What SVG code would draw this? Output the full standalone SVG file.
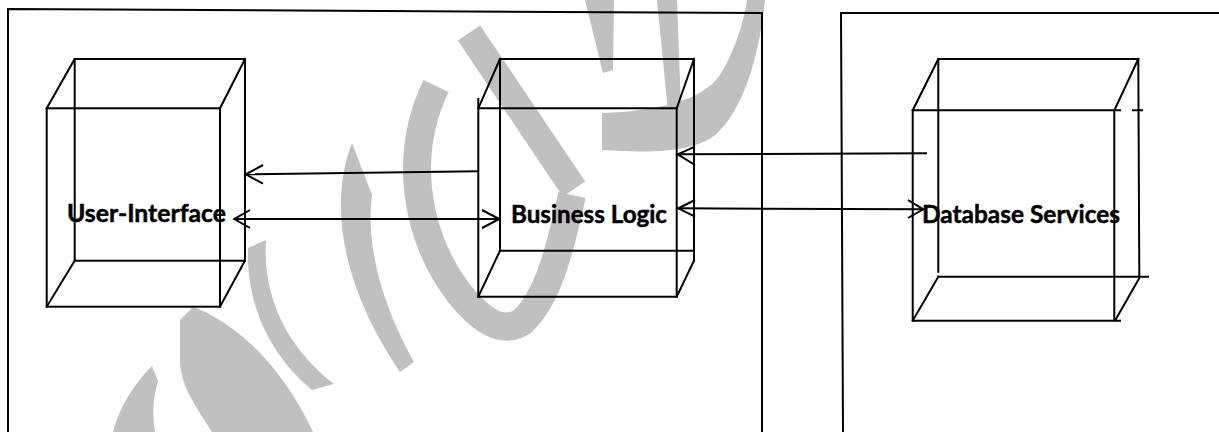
<svg xmlns="http://www.w3.org/2000/svg" width="1219" height="432" viewBox="0 0 1219 432">
  <defs>
    <style>
      .mark { fill: #c0c0c0; stroke: none; }
      .markline { fill: none; stroke: #c0c0c0; stroke-linecap: butt; }
      .edge { fill: none; stroke: #000; stroke-width: 2; stroke-linecap: square; }
      .wire { fill: none; stroke: #000; stroke-width: 2; }
      .head { fill: none; stroke: #000; stroke-width: 2; stroke-linejoin: miter; }
      .label { font-family: Lato, "Open Sans", "Liberation Sans", sans-serif; font-weight: bold; font-size: 25px; fill: #000; stroke: #000; stroke-width: 0.5; }
    </style>
  </defs>
  <rect width="1219" height="432" fill="#fff"/>

  <!-- background mark -->
  <g id="backdrop-mark">
    <path class="mark" d="M113 432 C120 405 135 383 152 366 L158 381 C153 398 152 415 155 432 Z"/>
    <path class="mark" d="M180 320 L193 307 C230 320 280 360 313 432 L212 432 C195 405 180 385 180 360 Z"/>
    <path class="mark" d="M248 248 L266 240 C262 300 290 350 334 384 L312 390 C270 355 246 305 248 248 Z"/>
    <path class="mark" d="M352 143 C330 200 338 280 400 372 L414 362 C385 310 365 250 372 195 Z"/>
    <path class="markline" stroke-width="28" d="M436 86 C405 150 412 230 458 292 C482 322 502 334 522 322 C548 298 560 250 572 195"/>
    <path class="markline" stroke-width="27" d="M469 33 L574 189"/>
    <path class="mark" d="M585 0 L614 0 L613 70 L603 73 Z"/>
    <path class="mark" d="M657 0 L677 0 L681 108 L668 112 Z"/>
    <path class="mark" d="M602 113 C640 112 700 105 720 75 C735 50 743 25 747 0 L765 0 C760 50 745 110 715 135 C690 155 640 152 602 150 Z"/>
  </g>

  <!-- tier frames -->
  <g id="frame-app">
    <polyline class="edge" points="8,432 8,9 762,13 762,432"/>
  </g>
  <g id="frame-data">
    <polyline class="edge" points="843,432 841,13 1219,13"/>
  </g>

  <!-- node: user interface -->
  <g id="node-ui">
    <rect class="edge" x="46.7" y="108.3" width="173.3" height="198.4"/>
    <rect class="edge" x="74.7" y="59" width="170.3" height="201.7"/>
    <path class="edge" d="M46.7 108.3 L74.7 59 M220 108.3 L245 59 M46.7 306.7 L74.7 260.7 M220 306.7 L245 260.7"/>
    <text class="label" x="67" y="222" textLength="159" lengthAdjust="spacingAndGlyphs">User-Interface</text>
  </g>

  <!-- node: business logic -->
  <g id="node-bl">
    <path class="edge" d="M478.3 99 L478.3 296.7 L676.7 296.7 L676.7 108.3 L478.3 108.3"/>
    <path class="edge" d="M500 59 L694 59 L694 260.7 M500 59 L500 250.7 L694 250.7"/>
    <path class="edge" d="M478.3 108.3 L500 59 M676.7 108.3 L694 59 M478.3 296.7 L500 250.7 M676.7 296.7 L694 260.7"/>
    <text class="label" x="511" y="223" textLength="156" lengthAdjust="spacingAndGlyphs">Business Logic</text>
  </g>

  <!-- node: database services -->
  <g id="node-db">
    <path class="edge" d="M912.7 110.3 L912.7 320.7 L1120 320.7 M912.7 110.3 L1120 110.3 M1114.3 110.3 L1114.3 320.7 M1133 110.3 L1142 110.3"/>
    <path class="edge" d="M938.3 59 L1138.3 59 L1139.3 276.7 M938.3 59 L938.3 271.7 M938.3 276.7 L1148 276.7"/>
    <path class="edge" d="M912.7 110.3 L938.3 59 M1114.3 110.3 L1138.3 59 M912.7 320.7 L938.3 276.7 M1115 320.7 L1139.3 278"/>
    <text class="label" x="922" y="223" textLength="198" lengthAdjust="spacingAndGlyphs">Database Services</text>
  </g>

  <!-- connectors -->
  <g id="connectors">
    <path class="wire" d="M478.3 171.3 L245.7 174.3"/>
    <path class="head" d="M263 165 L245.7 174.3 L263 183.7"/>

    <path class="wire" d="M234.3 219 L499.3 219"/>
    <path class="head" d="M250 210 L234.3 219 L250 228"/>
    <path class="head" d="M482 210 L499.3 219 L482 228"/>

    <path class="wire" d="M927 153.3 L677.7 154.3"/>
    <path class="head" d="M695 146.7 L677.7 154.3 L695 165"/>

    <path class="wire" d="M678.3 208.3 L923.3 209.3"/>
    <path class="head" d="M695 200 L678.3 208.3 L695 216.7"/>
    <path class="head" d="M908 200 L923.3 209.3 L908 218"/>
  </g>
</svg>
